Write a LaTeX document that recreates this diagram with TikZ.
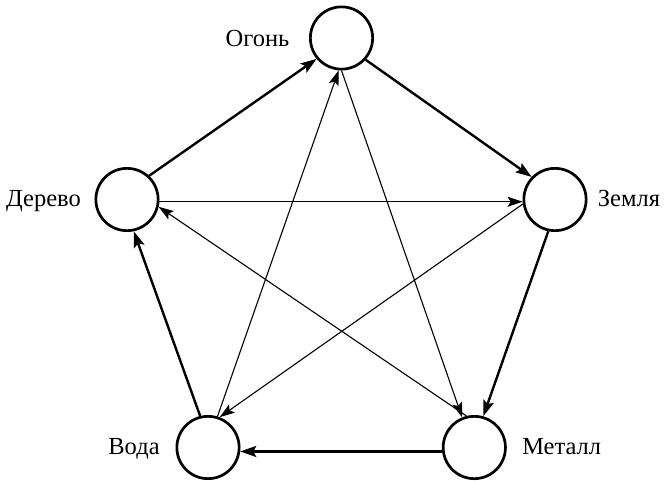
\documentclass[tikz,border=0pt]{standalone}
\usepackage{fontspec}
\setmainfont{Liberation Serif}
\usetikzlibrary{arrows.meta}
\begin{document}
\begin{tikzpicture}[x=1pt,y=-1pt,
  elem/.style={circle,draw,line width=2.7pt,minimum size=62.3pt,inner sep=0pt},
  lbl/.style={font=\fontsize{24.5}{28}\selectfont,inner sep=0pt,anchor=base},
  gen/.style={line width=2.4pt,-{Stealth[length=16pt,width=11pt,inset=3pt]}},
  ctrl/.style={line width=1.1pt,-{Stealth[length=15pt,width=10pt,inset=3pt]}}]
\useasboundingbox (0,0) rectangle (664,480);
\node[elem] (O) at (341.5,38) {};
\node[elem] (D) at (127,199.5) {};
\node[elem] (Z) at (555,199.5) {};
\node[elem] (V) at (208,447.5) {};
\node[elem] (M) at (474.3,447.5) {};
\node[lbl] (lO) at (257.5,46) {Огонь};
\node[lbl] (lD) at (43.5,206.7) {Дерево};
\node[lbl] (lZ) at (629,206.7) {Земля};
\node[lbl] (lV) at (134,454) {Вода};
\node[lbl] (lM) at (561.7,454) {Металл};
% generating cycle
\draw[gen] (D.47) -- (O.220);
\draw[gen] (O.-42) -- (Z.136);
\draw[gen] (Z.258) -- (M.74);
\draw[gen] (M.187) -- (V.-7);
\draw[gen] (V.104) -- (D.-78);
% controlling cycle
\draw[ctrl] (D.-4) -- (Z.184);
\draw[ctrl] (Z.188) -- (V.69);
\draw[ctrl] (V.73) -- (O.265);
\draw[ctrl] (O.270) -- (M.112);
\draw[ctrl] (M.104) -- (D.-13);
\end{tikzpicture}
\end{document}
